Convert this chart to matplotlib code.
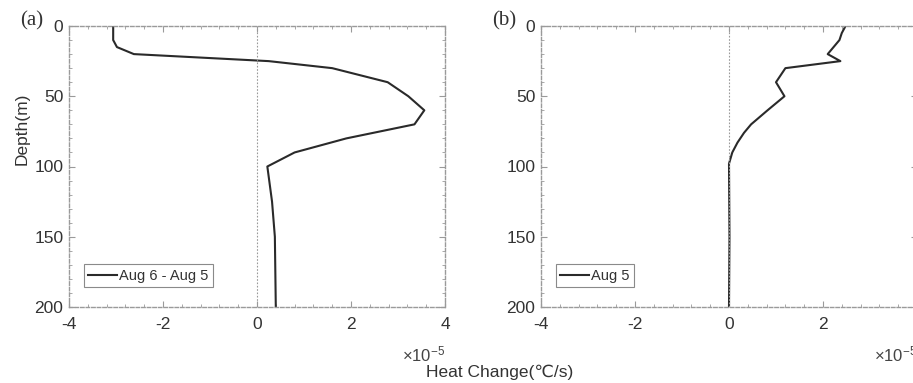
import numpy as np
import matplotlib
matplotlib.use("Agg")
import matplotlib.pyplot as plt
from matplotlib.ticker import MultipleLocator

plt.rcParams['font.family'] = ['Liberation Sans', 'DejaVu Sans']
plt.rcParams['axes.unicode_minus'] = False
plt.rcParams['mathtext.fontset'] = 'custom'
plt.rcParams['mathtext.rm'] = 'Liberation Sans'
plt.rcParams['mathtext.it'] = 'Liberation Sans'

# panel (a): Aug 6 - Aug 5, heat change in units of 1e-5 degC/s
depth_a = [0, 10, 15, 20, 25, 30, 40, 50, 60, 70, 80, 90, 100, 125, 150, 200]
heat_a = [-3.06, -3.06, -2.98, -2.62, 0.25, 1.6, 2.78, 3.22, 3.56, 3.35, 1.9, 0.8, 0.22, 0.32, 0.38, 0.40]

# panel (b): Aug 5
depth_b = [0, 5, 10, 20, 25, 30, 40, 50, 60, 70, 76, 83, 90, 98, 150, 200]
heat_b = [2.48, 2.4, 2.35, 2.1, 2.37, 1.2, 1.0, 1.18, 0.82, 0.47, 0.32, 0.18, 0.07, 0.0, 0.01, 0.0]

panels = [("(a)", "Aug 6 - Aug 5", heat_a, depth_a, 69),
          ("(b)", "Aug 5", heat_b, depth_b, 541)]

W, H = 913, 383
fig = plt.figure(figsize=(W / 100, H / 100), dpi=100)

frame = '#9a9a9a'
for tag, lab, x, y, left_px in panels:
    ax = fig.add_axes([left_px / W, 1 - 307 / H, 376 / W, 281 / H])
    ax.plot(x, y, color='#2a2a2a', lw=1.5, label=lab)
    ax.axvline(0, color='#999999', lw=0.8, ls=(0, (1.5, 1.5)))
    ax.set_xlim(-4, 4)
    ax.set_ylim(200, 0)
    ax.set_xticks([-4, -2, 0, 2, 4])
    ax.set_yticks([0, 50, 100, 150, 200])
    ax.xaxis.set_minor_locator(MultipleLocator(0.4))
    ax.yaxis.set_minor_locator(MultipleLocator(10))
    ax.tick_params(which='both', direction='in', top=True, right=True,
                   color=frame, labelcolor='#333333', labelsize=12.5)
    ax.tick_params(which='major', length=4, width=0.8)
    ax.tick_params(which='minor', length=2, width=0.6)
    ax.tick_params(axis='x', pad=7)
    ax.tick_params(axis='y', pad=4)
    for s in ax.spines.values():
        s.set_color(frame)
        s.set_linestyle((0, (2.5, 1.5)))
        s.set_linewidth(1.0)
    leg = ax.legend(loc='lower left', fontsize=10.5, handlelength=2.0, handletextpad=0.1,
                    borderpad=0.3, fancybox=False, framealpha=1,
                    bbox_to_anchor=(0.02, 0.045))
    leg.get_frame().set_edgecolor('#8a8a8a')
    leg.get_frame().set_linewidth(0.8)
    for t in leg.get_texts():
        t.set_color('#333333')
    ax.text(1.0, -0.17, r'$\times\mathrm{10}^{\mathrm{-5}}$', transform=ax.transAxes,
            ha='right', va='center', fontsize=12, color='#444444')
    fig.text((left_px - 49) / W, 1 - 21 / H, tag, family='Liberation Serif', fontsize=15,
             color='#333333', va='center', ha='left')

fig.text(22 / W, 1 - 129 / H, 'Depth(m)', rotation=90, ha='center', va='center',
         fontsize=12.5, color='#333333')
fig.text(500 / W, 1 - 372 / H, 'Heat Change(℃/s)', ha='center', va='center',
         fontsize=12.5, color='#333333', family=['Liberation Sans', 'DejaVu Sans'])

fig.savefig('out.png', dpi=100)
